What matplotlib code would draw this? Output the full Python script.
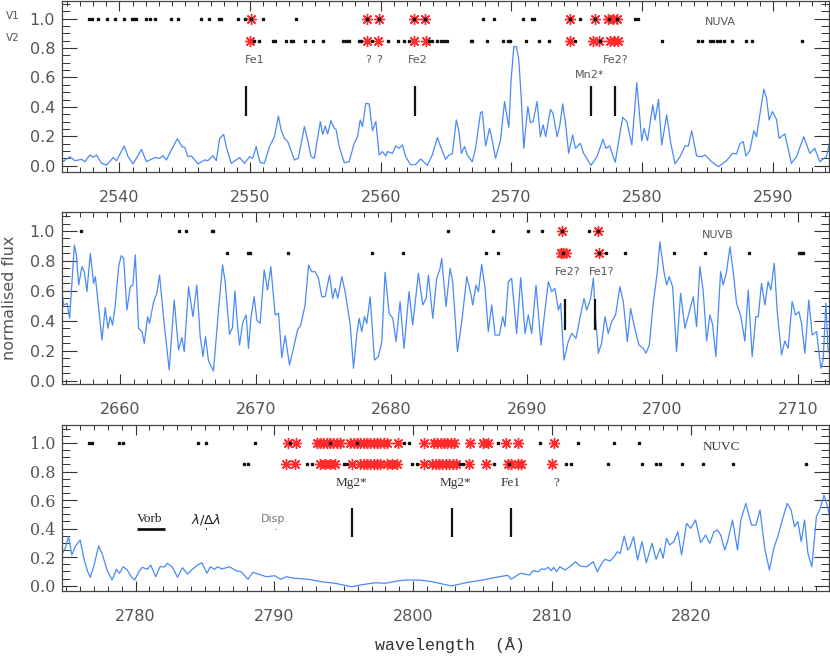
import matplotlib
matplotlib.use("Agg")
import matplotlib.pyplot as plt
from matplotlib.ticker import MultipleLocator

# ---------------- data : panel NUVA ----------------
wav_a = [2535.70, 2536.21, 2536.59, 2537.10, 2537.35, 2537.74, 2537.99, 2538.24, 2538.63, 2539.01,
         2539.52, 2539.77, 2540.36, 2540.66, 2541.04, 2541.68, 2542.06, 2542.70, 2543.08, 2543.33,
         2543.59, 2544.10, 2544.43, 2544.78, 2544.99, 2545.24, 2545.50, 2546.01, 2546.52, 2546.77,
         2547.15, 2547.41, 2547.66, 2547.97, 2548.17, 2548.55, 2549.19, 2549.57, 2549.95, 2550.20,
         2550.46, 2550.76, 2551.09, 2551.48, 2551.86, 2552.16, 2552.37, 2552.62, 2552.88, 2553.39,
         2553.69, 2554.15, 2554.40, 2554.66, 2554.91, 2555.37, 2555.55, 2555.75, 2555.93, 2556.18,
         2556.44, 2556.57, 2556.82, 2557.20, 2557.58, 2557.96, 2558.22, 2558.42, 2558.60, 2558.85,
         2559.11, 2559.36, 2559.62, 2559.87, 2560.12, 2560.38, 2560.51, 2560.89, 2561.14, 2561.40,
         2561.65, 2561.91, 2562.29, 2562.67, 2563.05, 2563.56, 2563.94, 2564.33, 2564.58, 2564.96,
         2565.22, 2565.47, 2565.78, 2565.98, 2566.16, 2566.41, 2566.62, 2567.00, 2567.25, 2567.63,
         2567.76, 2568.02, 2568.32, 2568.52, 2568.78, 2569.16, 2569.47, 2569.59, 2569.80, 2569.97,
         2570.18, 2570.38, 2570.56, 2570.74, 2570.94, 2571.25, 2571.45, 2571.65, 2571.96, 2572.21,
         2572.42, 2572.62, 2572.98, 2573.18, 2573.49, 2573.69, 2573.92, 2574.12, 2574.38, 2574.68,
         2574.89, 2575.27, 2575.52, 2576.08, 2576.54, 2577.00, 2577.23, 2577.51, 2577.94, 2578.32,
         2578.52, 2578.83, 2579.21, 2579.59, 2579.85, 2579.97, 2580.15, 2580.41, 2580.81, 2580.99,
         2581.25, 2581.50, 2581.88, 2582.19, 2582.52, 2582.90, 2583.28, 2583.54, 2583.79, 2584.17,
         2584.55, 2584.81, 2585.32, 2585.83, 2586.46, 2586.92, 2587.23, 2587.48, 2587.74, 2587.94,
         2588.24, 2588.55, 2588.75, 2589.01, 2589.31, 2589.52, 2589.72, 2589.97, 2590.28, 2590.48,
         2590.92, 2591.42, 2591.81, 2592.37, 2592.83, 2593.21, 2593.59, 2594.10, 2594.30]
flux_a = [0.030, 0.061, 0.034, 0.043, 0.027, 0.073, 0.057, 0.073, 0.016, 0.004,
          0.055, 0.034, 0.134, 0.061, 0.012, 0.111, 0.027, 0.055, 0.050, 0.068,
          0.039, 0.130, 0.184, 0.130, 0.125, 0.061, 0.066, 0.012, 0.039, 0.034,
          0.068, 0.034, 0.184, 0.213, 0.130, 0.016, 0.055, 0.016, 0.061, 0.050,
          0.130, 0.021, 0.016, 0.130, 0.197, 0.338, 0.243, 0.186, 0.164, 0.039,
          0.050, 0.266, 0.175, 0.061, 0.050, 0.300, 0.213, 0.270, 0.216, 0.306,
          0.254, 0.247, 0.130, 0.021, 0.027, 0.152, 0.197, 0.311, 0.266, 0.424,
          0.420, 0.238, 0.300, 0.073, 0.096, 0.066, 0.096, 0.084, 0.134, 0.118,
          0.141, 0.061, 0.005, 0.009, 0.046, 0.002, 0.073, 0.191, 0.128, 0.043,
          0.073, 0.080, 0.311, 0.232, 0.084, 0.130, 0.073, 0.027, 0.118, 0.361,
          0.368, 0.134, 0.254, 0.175, 0.050, 0.175, 0.436, 0.368, 0.261, 0.583,
          0.810, 0.810, 0.719, 0.470, 0.118, 0.402, 0.293, 0.300, 0.436, 0.197,
          0.277, 0.197, 0.383, 0.356, 0.197, 0.270, 0.420, 0.300, 0.084, 0.209,
          0.118, 0.152, 0.084, 0.002, 0.061, 0.179, 0.118, 0.134, 0.023, 0.232,
          0.329, 0.300, 0.141, 0.565, 0.300, 0.170, 0.254, 0.170, 0.413, 0.311,
          0.451, 0.141, 0.345, 0.152, 0.012, 0.061, 0.134, 0.134, 0.238, 0.066,
          0.061, 0.073, 0.027, -0.007, 0.034, 0.084, 0.080, 0.148, 0.164, 0.066,
          0.102, 0.238, 0.197, 0.345, 0.520, 0.458, 0.311, 0.368, 0.315, 0.186,
          0.216, 0.016, 0.061, 0.197, 0.084, 0.118, 0.027, 0.061, 0.141]

v1_black_a = [2537.66, 2537.91, 2538.37, 2539.08, 2539.69, 2540.31, 2540.92, 2541.12, 2541.30, 2542.06,
              2542.37, 2542.70, 2543.97, 2544.48, 2546.26, 2546.82, 2547.58, 2547.79, 2549.06, 2549.57,
              2550.08, 2550.97, 2553.54, 2558.98, 2559.87, 2562.54, 2563.36, 2567.84, 2568.65, 2570.89,
              2571.58, 2571.76, 2574.45, 2575.22, 2576.41, 2577.48, 2578.07, 2579.47, 2579.72]
v1_red_a = [2550.08, 2558.98, 2559.87, 2562.54, 2563.36, 2574.45, 2576.41, 2577.40, 2577.80, 2578.07]
v2_black_a = [2550.33, 2550.71, 2551.73, 2551.91, 2552.75, 2553.13, 2553.26, 2554.20, 2554.78, 2555.55,
              2557.07, 2557.33, 2557.58, 2558.35, 2558.52, 2559.36, 2560.56, 2561.32, 2561.78, 2562.16,
              2563.69, 2563.94, 2564.27, 2564.58, 2564.83, 2565.09, 2566.87, 2567.00, 2568.09, 2569.36,
              2569.72, 2569.92, 2571.14, 2572.09, 2572.85, 2574.89, 2576.79, 2581.50, 2584.30, 2584.56,
              2585.19, 2585.45, 2585.70, 2585.95, 2586.29, 2586.85, 2587.94, 2588.37, 2592.26]
v2_red_a = [2549.95, 2558.93, 2559.80, 2562.54, 2563.44, 2574.50, 2576.23, 2576.67, 2577.51, 2577.85, 2578.19]
lines_a = [2549.7, 2562.6, 2576.1, 2577.9]
labels_a = ["Fe1", "?", "?", "Fe2", "Mn2*", "Fe2?"]
label_x_a = [2550.36, 2559.0, 2559.9, 2562.79, 2576.0, 2577.94]
label_y_a = [0.72, 0.72, 0.72, 0.72, 0.617, 0.72]

# ---------------- data : panel NUVB ----------------
wav_b = [2655.58, 2655.82, 2656.07, 2656.26, 2656.44, 2656.61, 2656.76, 2656.93, 2657.17, 2657.35,
         2657.54, 2657.79, 2658.03, 2658.16, 2658.33, 2658.65, 2658.89, 2659.09, 2659.26, 2659.43,
         2659.63, 2659.88, 2660.07, 2660.25, 2660.49, 2660.74, 2660.93, 2661.11, 2661.35, 2661.60,
         2661.77, 2662.02, 2662.16, 2662.46, 2662.70, 2662.90, 2663.20, 2663.61, 2663.98, 2664.30,
         2664.55, 2664.72, 2665.04, 2665.36, 2665.65, 2665.90, 2666.10, 2666.29, 2666.51, 2666.88,
         2667.25, 2667.55, 2667.74, 2668.06, 2668.28, 2668.46, 2668.65, 2668.80, 2669.05, 2669.29,
         2669.46, 2669.64, 2669.88, 2670.08, 2670.32, 2670.62, 2670.87, 2671.11, 2671.43, 2671.68,
         2671.92, 2672.17, 2672.49, 2672.78, 2673.08, 2673.32, 2673.64, 2673.89, 2674.13, 2674.38,
         2674.63, 2674.87, 2675.12, 2675.44, 2675.68, 2675.86, 2676.05, 2676.35, 2676.59, 2676.96,
         2677.21, 2677.45, 2677.63, 2677.82, 2678.02, 2678.19, 2678.44, 2678.76, 2679.05, 2679.30,
         2679.54, 2679.84, 2680.11, 2680.35, 2680.65, 2680.94, 2681.31, 2681.58, 2682.00, 2682.32,
         2682.57, 2682.74, 2683.06, 2683.35, 2683.60, 2683.72, 2684.04, 2684.34, 2684.53, 2684.88,
         2685.20, 2685.57, 2685.86, 2686.01, 2686.25, 2686.43, 2686.67, 2686.92, 2687.16, 2687.41,
         2687.66, 2687.98, 2688.22, 2688.39, 2688.64, 2688.88, 2689.25, 2689.55, 2689.87, 2690.11,
         2690.36, 2690.68, 2691.05, 2691.34, 2691.59, 2691.84, 2692.08, 2692.33, 2692.50, 2692.74,
         2693.06, 2693.31, 2693.63, 2693.92, 2694.22, 2694.42, 2694.71, 2694.91, 2695.08, 2695.28,
         2695.52, 2695.77, 2696.01, 2696.26, 2696.55, 2696.87, 2697.12, 2697.42, 2697.66, 2697.91,
         2698.28, 2698.60, 2698.79, 2699.04, 2699.33, 2699.63, 2699.82, 2700.12, 2700.32, 2700.51,
         2700.76, 2701.05, 2701.35, 2701.67, 2701.99, 2702.28, 2702.53, 2702.77, 2703.02, 2703.27,
         2703.51, 2703.71, 2703.95, 2704.30, 2704.49, 2704.74, 2704.99, 2705.23, 2705.48, 2705.80,
         2706.09, 2706.34, 2706.63, 2706.90, 2707.08, 2707.32, 2707.57, 2707.81, 2708.01, 2708.26,
         2708.48, 2708.80, 2709.04, 2709.29, 2709.58, 2709.83, 2710.08, 2710.27, 2710.52, 2710.81,
         2711.06, 2711.38, 2711.55, 2711.70, 2711.87, 2712.07, 2712.24]
flux_b = [0.673, 0.506, 0.517, 0.417, 0.662, 0.906, 0.840, 0.639, 0.762, 0.728,
          0.595, 0.851, 0.650, 0.695, 0.550, 0.272, 0.488, 0.350, 0.428, 0.372,
          0.506, 0.762, 0.835, 0.817, 0.472, 0.628, 0.639, 0.840, 0.350, 0.328,
          0.250, 0.428, 0.383, 0.528, 0.584, 0.706, 0.417, 0.072, 0.539, 0.205,
          0.288, 0.194, 0.628, 0.428, 0.639, 0.294, 0.161, 0.294, 0.132, 0.065,
          0.472, 0.773, 0.662, 0.310, 0.354, 0.599, 0.372, 0.238, 0.394, 0.439,
          0.216, 0.417, 0.561, 0.405, 0.383, 0.740, 0.606, 0.762, 0.439, 0.450,
          0.154, 0.301, 0.105, 0.216, 0.339, 0.372, 0.506, 0.773, 0.728, 0.728,
          0.684, 0.561, 0.561, 0.706, 0.550, 0.617, 0.550, 0.695, 0.595, 0.383,
          0.083, 0.305, 0.417, 0.328, 0.428, 0.383, 0.561, 0.138, 0.161, 0.261,
          0.724, 0.450, 0.417, 0.261, 0.528, 0.216, 0.595, 0.372, 0.717, 0.506,
          0.550, 0.706, 0.417, 0.684, 0.750, 0.817, 0.495, 0.751, 0.662, 0.194,
          0.394, 0.695, 0.584, 0.506, 0.639, 0.595, 0.777, 0.617, 0.328, 0.506,
          0.305, 0.305, 0.428, 0.361, 0.662, 0.684, 0.316, 0.688, 0.316, 0.439,
          0.316, 0.639, 0.238, 0.472, 0.662, 0.595, 0.617, 0.472, 0.517, 0.138,
          0.261, 0.316, 0.283, 0.417, 0.550, 0.472, 0.550, 0.684, 0.417, 0.183,
          0.250, 0.428, 0.316, 0.394, 0.439, 0.628, 0.528, 0.261, 0.483, 0.372,
          0.238, 0.216, 0.183, 0.238, 0.517, 0.728, 0.929, 0.728, 0.639, 0.695,
          0.628, 0.194, 0.584, 0.350, 0.461, 0.561, 0.361, 0.762, 0.595, 0.265,
          0.439, 0.376, 0.161, 0.728, 0.639, 0.728, 0.895, 0.728, 0.517, 0.428,
          0.265, 0.606, 0.161, 0.428, 0.428, 0.650, 0.506, 0.662, 0.606, 0.784,
          0.461, 0.172, 0.265, 0.216, 0.528, 0.439, 0.461, 0.383, 0.183, 0.539,
          0.305, 0.328, 0.194, 0.083, 0.138, 0.517, 0.194]

v1_black_b = [2657.12, 2664.35, 2664.84, 2666.76, 2666.83, 2684.22, 2687.54, 2690.07, 2691.12, 2692.62,
              2694.62, 2695.28]
v1_red_b = [2692.62, 2695.28]
v2_black_b = [2667.87, 2669.46, 2669.54, 2672.36, 2678.61, 2680.85, 2687.02, 2687.90, 2692.70, 2695.35,
              2695.82, 2697.25, 2700.88, 2703.15, 2706.41, 2710.08, 2710.20, 2710.35]
v2_red_b = [2692.50, 2692.70, 2692.89, 2695.35]
lines_b = [2692.8, 2695.0]
labels_b = ["Fe2?", "Fe1?"]
label_x_b = [2693.0, 2695.5]
label_y_b = [0.726, 0.726]

# ---------------- data : panel NUVC ----------------
wav_c = [2774.73, 2774.93, 2775.17, 2775.41, 2775.65, 2776.01, 2776.30, 2776.55, 2776.74, 2776.98,
         2777.34, 2777.58, 2777.95, 2778.31, 2778.62, 2778.84, 2779.11, 2779.40, 2779.69, 2779.93,
         2780.24, 2780.48, 2780.85, 2781.09, 2781.45, 2781.76, 2782.10, 2782.29, 2782.66, 2783.02,
         2783.38, 2783.74, 2784.11, 2784.47, 2784.78, 2785.14, 2785.39, 2785.67, 2785.92, 2786.21,
         2786.76, 2787.25, 2787.61, 2788.09, 2788.45, 2788.82, 2789.42, 2790.02, 2790.46, 2790.87,
         2791.47, 2792.44, 2793.41, 2794.37, 2795.10, 2795.58, 2796.30, 2797.27, 2797.99, 2798.72,
         2799.44, 2800.41, 2801.38, 2802.76, 2803.79, 2805.00, 2805.97, 2806.81, 2807.06, 2807.71,
         2808.02, 2808.38, 2808.63, 2808.99, 2809.23, 2809.47, 2809.71, 2809.95, 2810.12, 2810.32,
         2810.56, 2810.92, 2811.28, 2811.69, 2812.01, 2812.49, 2812.97, 2813.26, 2813.58, 2813.82,
         2814.18, 2814.47, 2814.71, 2814.91, 2815.20, 2815.44, 2815.63, 2815.87, 2816.16, 2816.48,
         2816.79, 2817.20, 2817.49, 2817.80, 2818.00, 2818.24, 2818.48, 2818.77, 2819.06, 2819.33,
         2819.69, 2819.98, 2820.34, 2820.70, 2821.06, 2821.36, 2821.67, 2821.91, 2822.15, 2822.44,
         2822.64, 2823.00, 2823.36, 2823.60, 2823.96, 2824.37, 2824.69, 2824.98, 2825.34, 2825.66,
         2825.97, 2826.26, 2826.62, 2826.94, 2827.22, 2827.47, 2827.71, 2827.95, 2828.19, 2828.43,
         2828.72, 2829.04, 2829.28, 2829.59, 2829.88, 2830.32]
flux_c = [0.227, 0.262, 0.344, 0.215, 0.274, 0.320, 0.180, 0.098, 0.059, 0.133,
          0.278, 0.227, 0.110, 0.040, 0.115, 0.087, 0.133, 0.110, 0.063, 0.040,
          0.098, 0.129, 0.115, 0.145, 0.063, 0.133, 0.133, 0.157, 0.129, 0.059,
          0.126, 0.082, 0.117, 0.145, 0.161, 0.087, 0.133, 0.115, 0.133, 0.117,
          0.133, 0.105, 0.098, 0.045, 0.094, 0.082, 0.063, 0.070, 0.045, 0.063,
          0.052, 0.045, 0.028, 0.017, 0.002, -0.007, 0.007, 0.021, 0.017, 0.031,
          0.040, 0.040, 0.028, -0.002, 0.021, 0.040, 0.059, 0.073, 0.045, 0.087,
          0.082, 0.075, 0.105, 0.098, 0.117, 0.115, 0.129, 0.105, 0.129, 0.098,
          0.133, 0.110, 0.133, 0.168, 0.138, 0.133, 0.168, 0.098, 0.157, 0.185,
          0.173, 0.203, 0.238, 0.227, 0.348, 0.250, 0.274, 0.344, 0.180, 0.309,
          0.161, 0.297, 0.185, 0.262, 0.192, 0.332, 0.285, 0.309, 0.379, 0.215,
          0.437, 0.402, 0.460, 0.302, 0.355, 0.297, 0.379, 0.390, 0.355, 0.250,
          0.309, 0.460, 0.250, 0.460, 0.577, 0.425, 0.425, 0.530, 0.250, 0.110,
          0.262, 0.344, 0.472, 0.577, 0.530, 0.413, 0.449, 0.309, 0.460, 0.227,
          0.133, 0.484, 0.530, 0.635, 0.542, 0.297]

v1_black_c = [2776.62, 2776.86, 2778.84, 2779.08, 2784.47, 2785.07, 2788.57, 2791.11, 2794.00, 2795.95,
              2799.32, 2799.69, 2806.09, 2809.11, 2811.89, 2814.47, 2816.23]
v1_red_c = [2790.99, 2791.59, 2793.04, 2793.28, 2793.52, 2793.77, 2794.01, 2794.25, 2794.49, 2794.73,
            2795.46, 2795.70, 2795.95, 2796.19, 2796.43, 2796.67, 2796.91, 2797.16, 2797.40, 2797.64,
            2797.88, 2798.12, 2798.91, 2800.77, 2801.50, 2801.74, 2801.98, 2802.22, 2802.46, 2802.71,
            2802.95, 2804.08, 2805.00, 2805.36, 2806.69, 2807.54, 2810.15]
v2_black_c = [2787.80, 2788.09, 2792.32, 2792.68, 2794.98, 2795.22, 2799.93, 2800.29, 2803.36, 2803.55,
              2805.85, 2806.93, 2811.04, 2811.40, 2814.06, 2816.48, 2817.49, 2817.80, 2819.37, 2820.87,
              2823.00, 2828.31]
v2_red_c = [2790.87, 2791.47, 2793.29, 2793.65, 2794.01, 2794.37, 2795.58, 2796.18, 2796.42, 2796.66,
            2796.91, 2797.15, 2797.39, 2797.63, 2798.12, 2798.48, 2798.84, 2800.77, 2801.38, 2801.62,
            2801.86, 2802.10, 2802.34, 2802.58, 2802.83, 2803.07, 2804.03, 2805.24, 2806.81, 2807.05,
            2807.54, 2807.78, 2810.03]
lines_c = [2795.58, 2802.76, 2807.01]
labels_c = ["Mg2*", "Mg2*", "Fe1", "?"]
label_x_c = [2795.58, 2803.04, 2807.03, 2810.29]
label_y_c = [0.72, 0.72, 0.72, 0.72]

# resolution indicators (panel NUVC)
res_labels = ["Vorb", r"$\lambda/\Delta\lambda$", "Disp."]
res_label_x = [2781.0, 2785.07, 2790.0]
res_bar_start = [2780.07, 2785.07, 2790.05]
res_bar_end = [2782.10, 2785.17, 2790.10]

panel_names = ["NUVA", "NUVB", "NUVC"]
panel_name_x = [2586.0, 2704.1, 2822.2]
xlims = [(2535.6, 2594.3), (2655.7, 2712.3), (2774.7, 2829.95)]
ylims = [(-0.043, 1.120), (-0.022, 1.127), (-0.037, 1.126)]
row_v1 = 1.0
row_v2 = 0.85
line_lo, line_hi = 0.34, 0.545

# ---------------- figure ----------------
W, H = 830, 664
fig = plt.figure(figsize=(W / 100, H / 100), dpi=100)
blue = "#4a8af4"
txtc = "#555555"

boxes = [(1, 172), (212, 384), (425, 591)]
L, R = 62, 829

panels = [
    (wav_a, flux_a, v1_black_a, v1_red_a, v2_black_a, v2_red_a, lines_a, labels_a, label_x_a, label_y_a),
    (wav_b, flux_b, v1_black_b, v1_red_b, v2_black_b, v2_red_b, lines_b, labels_b, label_x_b, label_y_b),
    (wav_c, flux_c, v1_black_c, v1_red_c, v2_black_c, v2_red_c, lines_c, labels_c, label_x_c, label_y_c),
]

for i, (wv, fl, v1b, v1r, v2b, v2r, lns, labs, lx, ly) in enumerate(panels):
    top, bot = boxes[i]
    ax = fig.add_axes([L / W, 1 - bot / H, (R - L) / W, (bot - top) / H])
    ax.set_xlim(*xlims[i])
    ax.set_ylim(*ylims[i])
    serif = (i == 2)
    ax.plot(wv, fl, color=blue, lw=0.9, zorder=2, solid_joinstyle="round")
    ast = (8, 2, 0)
    ax.plot(v1r, [row_v1] * len(v1r), ls="none", marker=ast, ms=8, mec="#ff2a2a", mew=1.0, zorder=3)
    ax.plot(v2r, [row_v2] * len(v2r), ls="none", marker=ast, ms=8, mec="#ff2a2a", mew=1.0, zorder=3)
    ax.plot(v1b, [row_v1] * len(v1b), ls="none", marker="s", ms=1.8, mfc="#111111", mec="#111111", zorder=4)
    ax.plot(v2b, [row_v2] * len(v2b), ls="none", marker="s", ms=1.8, mfc="#111111", mec="#111111", zorder=4)
    ax.vlines(lns, line_lo, line_hi, color="#111111", lw=1.6, zorder=3)
    fam = "Liberation Serif" if serif else "DejaVu Sans"
    fs = 9.5 if serif else 8
    for t, x, y in zip(labs, lx, ly):
        ax.text(x, y, t, ha="center", va="center", fontsize=fs, family=fam, color="#333333" if serif else txtc)
    ax.text(panel_name_x[i], 0.975, panel_names[i], ha="center", va="center",
            fontsize=fs, family=fam, color="#333333" if serif else txtc)

    lo, hi = xlims[i]
    ax.set_xticks([v for v in range(2500, 2900, 10) if lo <= v <= hi])
    ax.xaxis.set_minor_locator(MultipleLocator(1))
    ax.yaxis.set_major_locator(MultipleLocator(0.2))
    ax.yaxis.set_minor_locator(MultipleLocator(0.05))
    ax.tick_params(axis="x", which="both", direction="in", top=True, bottom=True, colors="#333333",
                   labelcolor=txtc, labelsize=11.5, pad=13)
    ax.tick_params(axis="x", which="major", length=7, width=0.8)
    ax.tick_params(axis="x", which="minor", length=3.5, width=0.7)
    ax.tick_params(axis="y", which="both", direction="in", left=True, right=True, colors="#333333",
                   labelcolor=txtc, labelsize=11.5, pad=5)
    ax.tick_params(axis="y", which="major", length=11, width=0.8)
    ax.tick_params(axis="y", which="minor", length=5.5, width=0.7)
    for lab in ax.get_yticklabels():
        lab.set_family("DejaVu Serif" if serif else "DejaVu Sans")
    for s in ax.spines.values():
        s.set_color("#444444")
        s.set_linewidth(0.9)

    if i == 2:
        for t, x in zip(res_labels, res_label_x):
            ax.text(x, 0.467, t, ha="center", va="center", fontsize=9.5 if t != "Disp." else 8,
                    family="Liberation Serif" if t != "Disp." else "DejaVu Sans",
                    color="#222222" if t != "Disp." else "#777777")
        ax.hlines([0.397] * 3, res_bar_start, res_bar_end, colors=["#111111", "#333333", "#888888"],
                  lw=[2.0, 1.5, 1.0])

fig.text(13 / W, 1 - 16 / H, "V1", fontsize=7.5, color=txtc, ha="center", va="center")
fig.text(13 / W, 1 - 38 / H, "V2", fontsize=7.5, color=txtc, ha="center", va="center")
fig.text(10 / W, 1 - 298 / H, "normalised flux", rotation=90, fontsize=11.5, color=txtc,
         ha="center", va="center")
fig.text(450 / W, 1 - 645 / H, "wavelength  (Å)", fontsize=12, family="Liberation Mono",
         color="#333333", ha="center", va="center")

fig.savefig("out.png", dpi=100)
